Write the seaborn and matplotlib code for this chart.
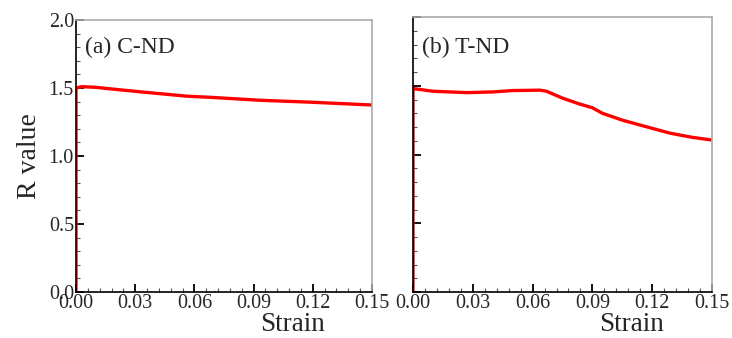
import matplotlib
matplotlib.use("Agg")
import matplotlib.pyplot as plt
import seaborn as sns
import pandas as pd
from matplotlib.ticker import MultipleLocator

sns.set_theme(style="white")
plt.rcParams['font.family'] = ['Liberation Serif', 'DejaVu Serif']

strain_cnd = [0.0, 0.0, 0.003, 0.01, 0.02, 0.034, 0.045, 0.056, 0.07, 0.093, 0.12, 0.15]
r_cnd = [0.0, 1.50, 1.51, 1.505, 1.49, 1.47, 1.455, 1.44, 1.43, 1.41, 1.395, 1.375]

strain_tnd = [0.0, 0.0, 0.01, 0.027, 0.04, 0.05, 0.0637, 0.067, 0.075, 0.083, 0.09, 0.095, 0.105, 0.115, 0.129, 0.14, 0.15]
r_tnd = [0.0, 1.48, 1.46, 1.45, 1.455, 1.465, 1.468, 1.46, 1.41, 1.37, 1.34, 1.30, 1.25, 1.21, 1.155, 1.125, 1.105]

panels = [("(a) C-ND", strain_cnd, r_cnd), ("(b) T-ND", strain_tnd, r_tnd)]

W, H = 732, 338
fig = plt.figure(figsize=(W / 100, H / 100), dpi=100)
ax1 = fig.add_axes([76 / W, 1 - 292 / H, 296 / W, 272 / H])
ax2 = fig.add_axes([413 / W, 1 - 292 / H, 299 / W, 275 / H])

for ax, (label, xs, ys) in zip([ax1, ax2], panels):
    df = pd.DataFrame({"Strain": xs, "R": ys})
    sns.lineplot(data=df, x="Strain", y="R", ax=ax, color="#ff0000", lw=2.4,
                 sort=False, estimator=None)
    ax.set_xlim(0, 0.15)
    ax.set_ylim(0, 2.0)
    ax.xaxis.set_major_locator(MultipleLocator(0.03))
    ax.xaxis.set_minor_locator(MultipleLocator(0.006))
    ax.yaxis.set_major_locator(MultipleLocator(0.5))
    ax.yaxis.set_minor_locator(MultipleLocator(0.1))
    ax.xaxis.set_major_formatter(plt.FuncFormatter(lambda v, p: f"{v:.2f}"))
    ax.yaxis.set_major_formatter(plt.FuncFormatter(lambda v, p: f"{v:.1f}"))
    ax.tick_params(axis="both", which="major", direction="in", length=6, width=1.3,
                   color="black", labelsize=14.5, pad=1.5,
                   bottom=True, left=True, top=False, right=False)
    ax.tick_params(axis="both", which="minor", direction="in", length=3, width=0.8,
                   color="#555555", bottom=True, left=True, top=False, right=False)
    for s in ["left", "bottom"]:
        ax.spines[s].set_color("black")
        ax.spines[s].set_linewidth(1.2)
    for s in ["top", "right"]:
        ax.spines[s].set_color("#aaaaaa")
        ax.spines[s].set_linewidth(1.2)
    ax.set_xlabel("Strain", fontsize=19.5, labelpad=0)
    ax.xaxis.label.set_va("baseline")
    ax.xaxis.set_label_coords(0.732, -39 / 272)

ax1.text(9 / 296, 1 - 33 / 272, "(a) C-ND", transform=ax1.transAxes, fontsize=17,
         va="baseline", ha="left")
ax2.text(9 / 299, 1 - 36 / 275, "(b) T-ND", transform=ax2.transAxes, fontsize=17,
         va="baseline", ha="left")

ax1.set_ylabel("R value", fontsize=20, labelpad=5)
ax2.set_ylabel("")
ax2.tick_params(axis="y", labelleft=False)

fig.savefig("out.png", dpi=100)
